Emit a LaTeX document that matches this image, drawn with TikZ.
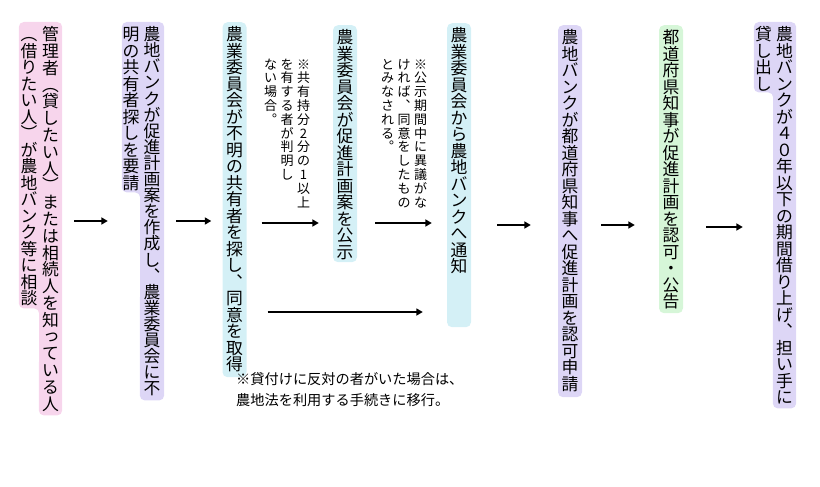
\documentclass[tikz,border=0pt]{standalone}
\usepackage{fontspec}
\setmainfont{Noto Sans CJK JP}
\usetikzlibrary{arrows.meta,backgrounds}
\definecolor{rosebg}{RGB}{247,213,236}
\definecolor{lilacbg}{RGB}{221,214,246}
\definecolor{aquabg}{RGB}{212,240,246}
\definecolor{mintbg}{RGB}{214,246,216}
\newcommand{\tatefont}{\fontsize{16.8}{16.5}\selectfont}
\newcommand{\notefont}{\fontsize{13}{13.8}\selectfont}
% vertical text: one character per cell
\makeatletter
\newcommand{\tate}[2][16.5pt]{\vtop{\baselineskip=#1\lineskiplimit=-\maxdimen\lineskip=0pt
  \@tfor\tt@ch:=#2\do{\hbox to 1em{\hss\tt@ch\hss}}}}
\makeatother
\newcommand{\sk}[1]{\raisebox{.1em}{\kern.12em#1}}
\tikzset{
  col/.style={anchor=north, inner xsep=0pt, inner ysep=0pt, text height=18.5pt, font=\tatefont},
  box/.style={col, fill=#1, rounded corners=5pt, minimum width=24pt},
  flow/.style={-{Triangle[length=6.5pt,width=7pt]}, line width=1.8pt},
  tnote/.style={anchor=north, inner sep=0pt, text height=11pt, font=\notefont}
}

\begin{document}
\begin{tikzpicture}[x=1pt, y=-1pt]
\useasboundingbox (0,0) rectangle (820,487);
% steps, right column first
\node[col, minimum width=23pt, text depth=374.5pt] (b1a) at (50.5,22) {\tate[16.8pt]{管理者︵貸したい人︶または相続人を知{\sk っ}ている人}};
\node[col, minimum width=20pt, text depth=267.5pt] (b1b) at (29,22) {\tate{︵借りたい人︶が農地バンク等に相談}};
\node[col, minimum width=24pt, text depth=359.5pt] (b2a) at (152,22) {\tate[16.1pt]{農地バンクが促進計画案を作成し︑農業委員会に不}};
\node[col, minimum width=18pt, text depth=151.5pt] (b2b) at (131,22) {\tate{明の共有者探しを要請}};
\node[box=aquabg, text depth=336.5pt] (b3) at (234.5,22) {\tate{農業委員会が不明の共有者を探し︑同意を取得}};
\node[box=aquabg, text depth=218.5pt] (b4) at (345,25) {\tate{農業委員会が促進計画案を公示}};
\node[box=aquabg, text depth=285.5pt] (b5) at (459,23) {\tate{農業委員会から農地バンクへ通知}};
\node[box=lilacbg, text depth=353.5pt] (b6) at (570,25) {\tate{農地バンクが都道府県知事へ促進計画を認可申請}};
\node[box=mintbg, text depth=269.5pt] (b7) at (671,25) {\tate{都道府県知事が促進計画を認可・公告}};
\node[col, minimum width=23pt, text depth=367.5pt] (b8a) at (784.5,22) {\tate{農地バンクが４０年以下の期間借り上げ︑担い手に}};
\node[col, minimum width=19pt, text depth=51.5pt] (b8b) at (763.5,22) {\tate{貸し出し}};
\begin{scope}[on background layer]
  \fill[rosebg, rounded corners=5pt] (b1b.north west) -- (b1a.north east) -- (b1a.south east) -- (b1a.south west) -- (b1b.south east) -- (b1b.south west) -- cycle;
  \fill[lilacbg, rounded corners=5pt] (b2b.north west) -- (b2a.north east) -- (b2a.south east) -- (b2a.south west) -- (b2b.south east) -- (b2b.south west) -- cycle;
  \fill[lilacbg, rounded corners=5pt] (b8b.north west) -- (b8a.north east) -- (b8a.south east) -- (b8a.south west) -- (b8b.south east) -- (b8b.south west) -- cycle;
\end{scope}
% notes
\node[tnote] (n1) at (287,58) {\hbox{\tate[13.8pt]{ない場合︒}\hskip3.5pt\tate[13.8pt]{を有する者が判明し}\hskip3.5pt\tate[13.8pt]{※共有持分2分の1以上}}};
\node[tnote] (n2) at (404,58) {\hbox{\tate[13.8pt]{とみなされる︒}\hskip3.5pt\tate[13.8pt]{ければ︑同意をしたもの}\hskip3.5pt\tate[13.8pt]{※公示期間中に異議がな}}};
\node[anchor=north west, inner sep=0pt, font=\fontsize{14.2}{21}\selectfont, align=left] (n3) at (236,372) {※貸付けに反対の者がいた場合は、\\農地法を利用する手続きに移行。};
% arrows
\draw[flow, shorten <=12pt, shorten >=14pt] (b1a.east |- 0,221) -- (b2b.west |- 0,221);
\draw[flow, shorten <=12pt, shorten >=11pt] (b2a.east |- 0,221) -- (b3.west |- 0,221);
\draw[flow, shorten <=15pt, shorten >=14pt] (b3.east |- 0,223) -- (b4.west |- 0,223);
\draw[flow, shorten <=18pt, shorten >=15pt] (b4.east |- 0,223) -- (b5.west |- 0,223);
\draw[flow, shorten <=21pt, shorten >=24pt] (b3.east |- 0,312) -- (b5.west |- 0,312);
\draw[flow, shorten <=26pt, shorten >=27pt] (b5.east |- 0,225) -- (b6.west |- 0,225);
\draw[flow, shorten <=19pt, shorten >=24pt] (b6.east |- 0,225) -- (b7.west |- 0,225);
\draw[flow, shorten <=23pt, shorten >=11pt] (b7.east |- 0,227) -- (b8b.west |- 0,227);
\end{tikzpicture}
\end{document}
